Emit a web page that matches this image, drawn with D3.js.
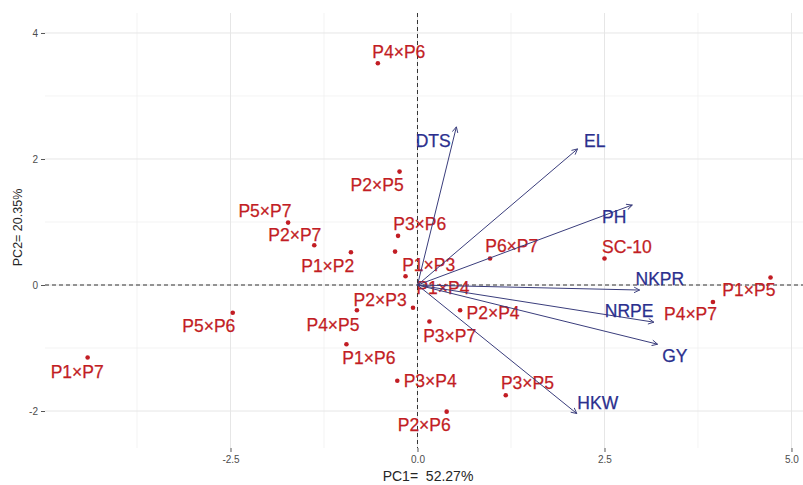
<!DOCTYPE html>
<html><head><meta charset="utf-8">
<script src="https://cdn.jsdelivr.net/npm/d3@7"></script>
<style>body{margin:0;background:#fff}svg{display:block}</style>
</head><body>
<svg id="chart" width="803" height="485"></svg>
<script>
// ---- data (PCA biplot scores) ----
const genotypes = ["P4×P6","P2×P5","P5×P7","P2×P7","P1×P2","P3×P6","P1×P3","P1×P4","P6×P7","SC-10","P1×P5",
  "P4×P7","P2×P4","P3×P7","P2×P3","P4×P5","P1×P6","P3×P4","P2×P6","P3×P5","P5×P6","P1×P7"];
const pc1 = [-0.53,-0.24,-1.73,-1.38,-0.89,-0.26,-0.30,-0.16,0.97,2.50,4.72,
  3.95,0.57,0.16,-0.06,-0.81,-0.95,-0.27,0.39,1.18,-2.47,-4.41];
const pc2 = [3.52,1.80,0.99,0.63,0.52,0.78,0.53,0.14,0.42,0.42,0.12,
  -0.27,-0.40,-0.58,-0.36,-0.40,-0.94,-1.52,-2.01,-1.75,-0.44,-1.15];
// repelled label anchor positions (data units)
const labelPc1 = [-0.25,-0.54,-2.04,-1.64,-1.20,0.03,0.15,0.34,1.26,2.80,4.43,
  3.65,1.01,0.43,-0.50,-1.13,-0.65,0.17,0.09,1.47,-2.79,-4.55];
const labelPc2 = [3.70,1.59,1.18,0.79,0.30,0.97,0.32,-0.05,0.62,0.60,-0.08,
  -0.46,-0.45,-0.81,-0.24,-0.64,-1.16,-1.52,-2.22,-1.56,-0.65,-1.38];

const variables = ["DTS","EL","PH","NKPR","NRPE","GY","HKW"];
const loadPc1 = [0.52,2.14,2.87,2.97,3.16,3.21,2.13];
const loadPc2 = [2.51,2.16,1.27,-0.08,-0.59,-0.94,-2.04];
const varLabelPc1 = [0.21,2.37,2.63,3.24,2.83,3.44,2.41];
const varLabelPc2 = [2.28,2.29,1.08,0.09,-0.41,-1.12,-1.87];

const xTicks = [-2.5, 0, 2.5, 5];
const xTickLabels = ["-2.5","0.0","2.5","5.0"];
const xMinor = [-3.75,-1.25,1.25,3.75];
const yTicks = [-2, 0, 2, 4];
const yTickLabels = ["-2","0","2","4"];
const yMinor = [-1,1,3];
const xTitle = "PC1=  52.27%";
const yTitle = "PC2= 20.35%";

// ---- layout ----
const P = {left:45, right:803, top:13, bottom:448};
const x = d3.scaleLinear().domain([-4.98, 5.154]).range([P.left, P.right]);
const y = d3.scaleLinear().domain([-2.587, 4.317]).range([P.bottom, P.top]);

const svg = d3.select("#chart");
const red = "#c21d24", blue = "#2b2f8e", arrowCol = "#3a3d7c";
const tickFont = "'Liberation Sans Narrow','Arial Narrow','Liberation Sans',Arial,sans-serif";
const font = "'Liberation Sans',Arial,sans-serif";

// grid
const g = svg.append("g");
g.selectAll(".xmin").data(xMinor).join("line")
  .attr("x1", d=>x(d)).attr("x2", d=>x(d)).attr("y1", P.top).attr("y2", P.bottom)
  .attr("stroke","#f0f0f0").attr("stroke-width",0.8);
g.selectAll(".ymin").data(yMinor).join("line")
  .attr("y1", d=>y(d)).attr("y2", d=>y(d)).attr("x1", P.left).attr("x2", P.right)
  .attr("stroke","#f0f0f0").attr("stroke-width",0.8);
g.selectAll(".xmaj").data(xTicks).join("line")
  .attr("x1", d=>x(d)).attr("x2", d=>x(d)).attr("y1", P.top).attr("y2", P.bottom)
  .attr("stroke","#e6e6e6").attr("stroke-width",1);
g.selectAll(".ymaj").data(yTicks).join("line")
  .attr("y1", d=>y(d)).attr("y2", d=>y(d)).attr("x1", P.left).attr("x2", P.right)
  .attr("stroke","#e6e6e6").attr("stroke-width",1);

// axes
const xAxis = d3.axisBottom(x).tickValues(xTicks).tickFormat((d,i)=>xTickLabels[i]).tickSize(4).tickPadding(4);
const ax = svg.append("g").attr("transform",`translate(0,${P.bottom})`).call(xAxis);
const yAxis = d3.axisLeft(y).tickValues(yTicks).tickFormat((d,i)=>yTickLabels[i]).tickSize(4).tickPadding(3);
const ay = svg.append("g").attr("transform",`translate(${P.left},0)`).call(yAxis);
[ax, ay].forEach(a=>{
  a.select(".domain").remove();
  a.selectAll(".tick line").attr("stroke","#555").attr("stroke-width",1);
  a.selectAll(".tick text").attr("fill","#4d4d4d").style("font-family",tickFont).style("font-size","10px");
});

// reference dashed lines
svg.append("line").attr("x1",x(0)).attr("x2",x(0)).attr("y1",P.top).attr("y2",P.bottom)
  .attr("stroke","#333").attr("stroke-width",1).attr("stroke-dasharray","4,3");
svg.append("line").attr("y1",y(0)).attr("y2",y(0)).attr("x1",P.left).attr("x2",P.right)
  .attr("stroke","#333").attr("stroke-width",1).attr("stroke-dasharray","4,3");

// titles
svg.append("text").attr("x",(P.left+P.right)/2 + 4).attr("y",476).attr("text-anchor","middle")
  .attr("dominant-baseline","central").attr("fill","#262626")
  .style("white-space","pre")
  .style("font-family",font).style("font-size","14px").text(xTitle);
svg.append("text").attr("transform",`translate(18,${(P.top+P.bottom)/2 - 3}) rotate(-90)`)
  .attr("text-anchor","middle").attr("dominant-baseline","central").attr("fill","#262626")
  .style("font-family",font).style("font-size","12.5px").text(yTitle);

// arrow marker
svg.append("defs").append("marker").attr("id","ah")
  .attr("viewBox","0 0 10 10").attr("refX",9).attr("refY",5)
  .attr("markerWidth",7).attr("markerHeight",7).attr("markerUnits","userSpaceOnUse")
  .attr("orient","auto")
  .append("path").attr("d","M1,1 L9,5 L1,9").attr("fill","none")
  .attr("stroke",arrowCol).attr("stroke-width",1.3);

// points
svg.append("g").selectAll("circle").data(genotypes).join("circle")
  .attr("cx",(d,i)=>x(pc1[i])).attr("cy",(d,i)=>y(pc2[i])).attr("r",2.3).attr("fill",red);

// genotype labels
svg.append("g").selectAll("text").data(genotypes).join("text")
  .attr("x",(d,i)=>x(labelPc1[i])).attr("y",(d,i)=>y(labelPc2[i]))
  .attr("text-anchor","middle").attr("dominant-baseline","central")
  .attr("fill",red).attr("stroke",red).attr("stroke-width",0.25)
  .style("font-family",font).style("font-size","17.5px").text(d=>d);

// loading arrows
svg.append("g").selectAll("line").data(variables).join("line")
  .attr("x1",x(0)).attr("y1",y(0))
  .attr("x2",(d,i)=>x(loadPc1[i])).attr("y2",(d,i)=>y(loadPc2[i]))
  .attr("stroke",arrowCol).attr("stroke-width",1).attr("marker-end","url(#ah)");

// variable labels
svg.append("g").selectAll("text").data(variables).join("text")
  .attr("x",(d,i)=>x(varLabelPc1[i])).attr("y",(d,i)=>y(varLabelPc2[i]))
  .attr("text-anchor","middle").attr("dominant-baseline","central")
  .attr("fill",blue).attr("stroke",blue).attr("stroke-width",0.25)
  .style("font-family",font).style("font-size","17.5px").text(d=>d);
</script>
</body></html>
